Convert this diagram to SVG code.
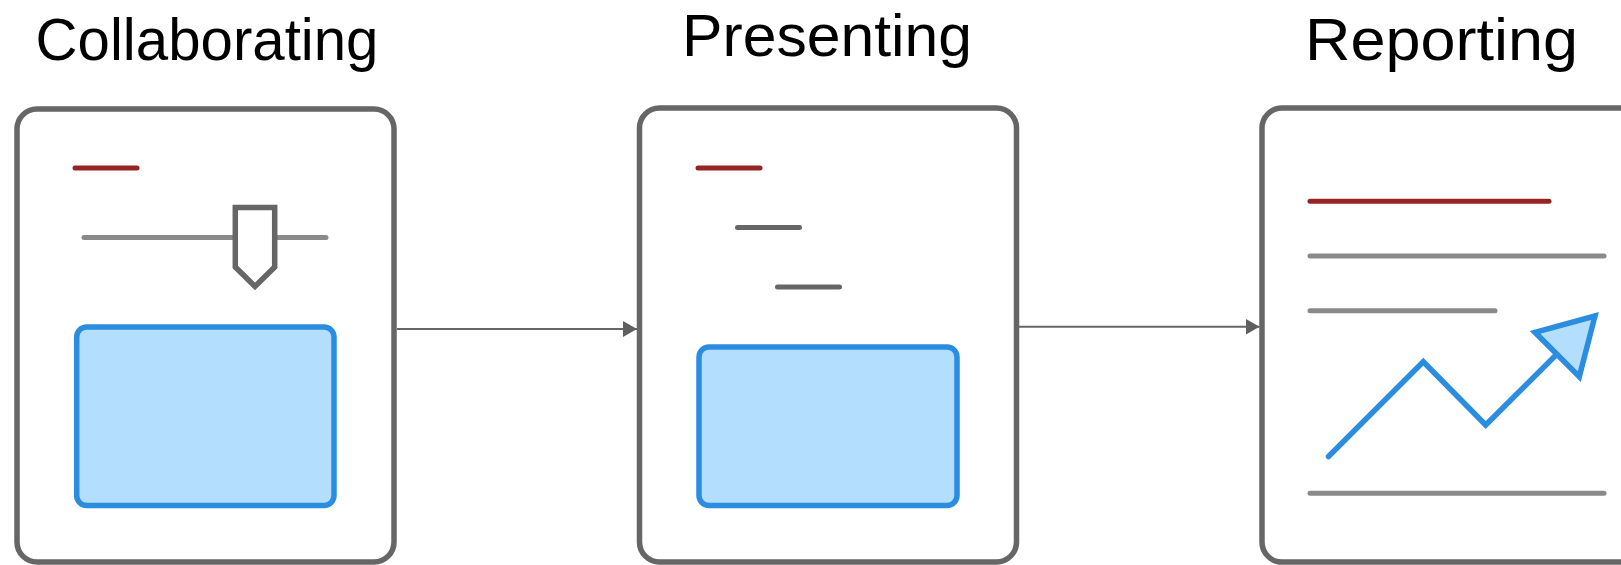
<svg xmlns="http://www.w3.org/2000/svg" width="1621" height="565" viewBox="0 0 1621 565">
  <style>
    .frame { fill: #ffffff; stroke: #666666; stroke-width: 5.5; }
    .title { font-family: "Liberation Sans", Arial, sans-serif; font-size: 60px; fill: #000000; text-anchor: middle; }
    .accent { stroke: #952424; stroke-width: 5; stroke-linecap: round; fill: none; }
    .rule { stroke: #8a8a8a; stroke-width: 5; stroke-linecap: round; fill: none; }
    .rule-dark { stroke: #666666; stroke-width: 5; stroke-linecap: round; fill: none; }
    .panel { fill: #b4defd; stroke: #2a8ddf; stroke-width: 5.5; }
    .chart { fill: none; stroke: #2a8ddf; stroke-width: 5.5; stroke-linecap: round; stroke-linejoin: miter; }
    .chart-head { fill: #b4defd; stroke: #2a8ddf; stroke-width: 5.5; stroke-linejoin: miter; }
    .link { stroke: #666666; stroke-width: 2; fill: none; }
  </style>
  <defs>
    <marker id="arrow" viewBox="0 0 14 16" refX="14" refY="8" markerWidth="14" markerHeight="16" markerUnits="userSpaceOnUse" orient="auto">
      <path d="M0,0 L14,8 L0,16 Z" fill="#5f5f5f"/>
    </marker>
  </defs>

  <rect width="1621" height="565" fill="#ffffff"/>

  <!-- Collaborating: card with title, slider and content panel -->
  <g id="collaborating">
    <text class="title" x="207" y="60" textLength="343" lengthAdjust="spacingAndGlyphs">Collaborating</text>
    <rect class="frame" x="17" y="109" width="377" height="453" rx="20"/>
    <line class="accent" x1="75" y1="168" x2="137" y2="168"/>
    <line class="rule" x1="84" y1="237.5" x2="326" y2="237.5"/>
    <path d="M235.3,207.5 L274.7,207.5 L274.7,267 L255,286.5 L235.3,267 Z" fill="#ffffff" stroke="#666666" stroke-width="5.5"/>
    <rect class="panel" x="76.7" y="327" width="257.3" height="178.5" rx="10"/>
  </g>

  <!-- Presenting: card with title, stepped lines and content panel -->
  <g id="presenting">
    <text class="title" x="827" y="56" textLength="290" lengthAdjust="spacingAndGlyphs">Presenting</text>
    <rect class="frame" x="639.5" y="108" width="377" height="454" rx="20"/>
    <line class="accent" x1="698" y1="168" x2="760" y2="168"/>
    <line class="rule-dark" x1="737.5" y1="227.5" x2="799.5" y2="227.5"/>
    <line class="rule-dark" x1="777.5" y1="287" x2="839.5" y2="287"/>
    <rect class="panel" x="699" y="347" width="258" height="158.5" rx="10"/>
  </g>

  <!-- Reporting: card with title, text lines and trend chart -->
  <g id="reporting">
    <text class="title" x="1441.5" y="60" textLength="273" lengthAdjust="spacingAndGlyphs">Reporting</text>
    <rect class="frame" x="1262" y="108" width="377" height="454" rx="20"/>
    <line class="accent" x1="1310" y1="201.3" x2="1549" y2="201.3"/>
    <line class="rule" x1="1310" y1="256" x2="1604" y2="256"/>
    <line class="rule" x1="1310" y1="310.7" x2="1495" y2="310.7"/>
    <line class="rule" x1="1310" y1="493.3" x2="1604" y2="493.3"/>
    <polyline class="chart" points="1328.5,456.5 1423.3,361.7 1485.7,425 1556,355"/>
    <polygon class="chart-head" points="1595,316 1535,332.3 1579.3,376.7"/>
  </g>

  <!-- Flow between the cards -->
  <g id="connectors">
    <line class="link" x1="397" y1="329" x2="637" y2="329" marker-end="url(#arrow)"/>
    <line class="link" x1="1019" y1="326.7" x2="1259.5" y2="326.7" marker-end="url(#arrow)"/>
  </g>
</svg>
